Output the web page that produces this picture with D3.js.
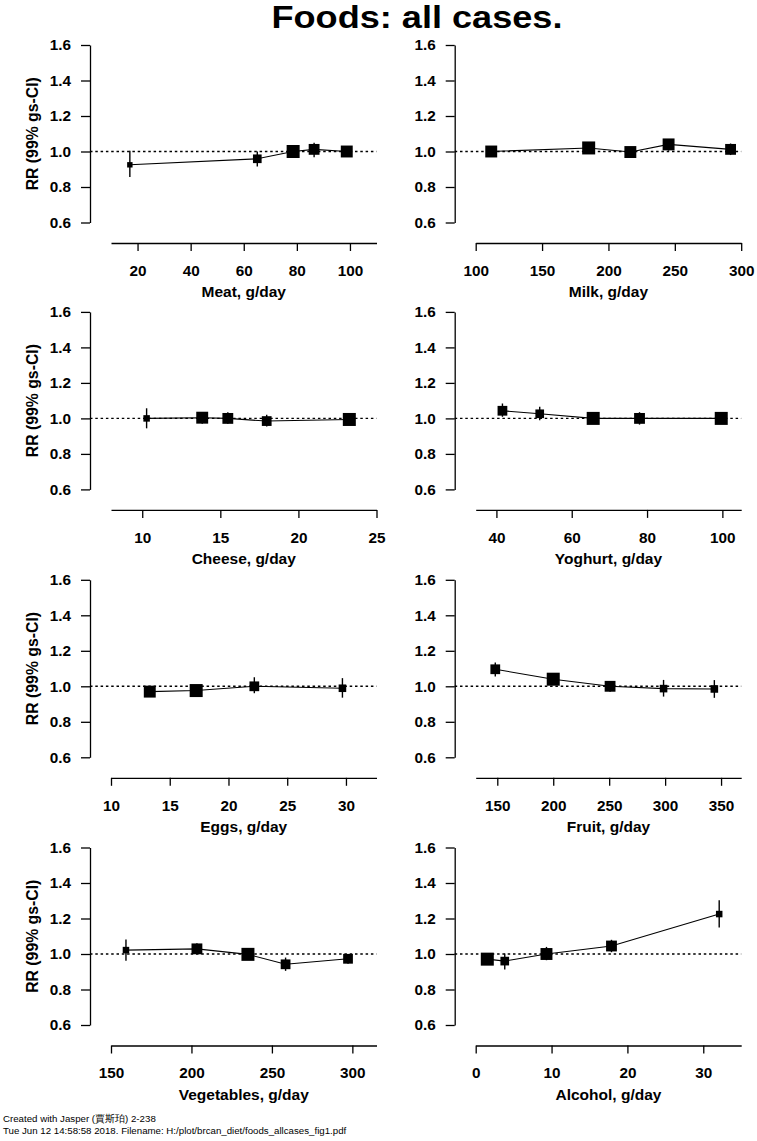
<!DOCTYPE html>
<html><head><meta charset="utf-8">
<script src="https://cdn.jsdelivr.net/npm/d3@7"></script>
<style>
body{margin:0;background:#fff;}
svg text{font-family:"Liberation Sans",Arial,sans-serif;}
</style></head>
<body><svg id="c" width="757" height="1141"></svg>
<script>
// ---- data ----
const panelNames = ["Meat","Milk","Cheese","Yoghurt","Eggs","Fruit","Vegetables","Alcohol"];
const xDomains = [[10,110],[100,300],[8,25],[34.5,105],[10,32.6],[130.7,368],[150,315],[0,35]];
const xTicks = [[20,40,60,80,100],[100,150,200,250,300],[10,15,20,25],[40,60,80,100],[10,15,20,25,30],[150,200,250,300,350],[150,200,250,300],[0,10,20,30]];
const intake = [
  [17.1,65.1,78.6,86.5,98.8],
  [111.7,185.1,216.5,245.3,292],
  [10.28,13.84,15.48,17.97,23.26],
  [41.6,51.5,65.7,78,99.7],
  [13.3,17.25,22.2,29.7],
  [148.2,200,250.8,298.6,344],
  [159.3,203.4,235.1,258.5,297.3],
  [1.53,3.83,9.33,17.9,32.1]
];
const rr = [
  [0.925,0.959,1.0,1.012,1.0],
  [1.0,1.02,0.997,1.04,1.012],
  [1.0,1.004,1.0,0.985,0.994],
  [1.043,1.026,1.0,1.0,1.0],
  [0.970,0.976,1.0,0.989],
  [1.096,1.04,1.0,0.987,0.985],
  [1.022,1.029,0.998,0.942,0.973],
  [0.971,0.960,1.0,1.045,1.225]
];
const ciLow = [
  [0.857,0.915,0.98,0.967,0.98],
  [0.975,0.99,0.97,1.005,0.98],
  [0.944,0.97,0.97,0.955,0.97],
  [1.009,0.99,0.975,0.965,0.975],
  [0.95,0.955,0.961,0.936],
  [1.055,1.015,0.97,0.942,0.935],
  [0.962,1.0,0.975,0.905,0.945],
  [0.95,0.913,0.965,1.01,1.15]
];
const ciHigh = [
  [1.004,1.0,1.02,1.049,1.025],
  [1.03,1.045,1.025,1.07,1.045],
  [1.057,1.035,1.035,1.02,1.02],
  [1.084,1.065,1.03,1.035,1.03],
  [0.99,0.995,1.051,1.046],
  [1.134,1.065,1.03,1.036,1.035],
  [1.082,1.06,1.02,0.98,1.0],
  [0.99,1.003,1.04,1.08,1.303]
];
// relative weight (square size)
const weight = [
  [5,8,12,10,11],
  [11,12,11,11,10],
  [6,11,10,9,12],
  [9,8,12,10,12],
  [11,12,9,7],
  [9,12,10,7,7],
  [6,10,12,9,9],
  [12,8,11,10,6]
];
const yTicks = [0.6,0.8,1.0,1.2,1.4,1.6];
const titleText = "Foods: all cases.";
const yTitle = "RR (99% gs-CI)";
const footer1 = "Created with Jasper (賈斯珀) 2-238";
const footer2 = "Tue Jun 12 14:58:58 2018. Filename: H:/plot/brcan_diet/foods_allcases_fig1.pdf";

// ---- layout ----
const svg = d3.select("#c");
const colX0 = [111, 475.7], plotW = 265.5, yAxisOff = 21;
const rowTop = [45, 311.9, 579.8, 847.5], plotH = 177.5, xAxisOff = 198;
const sizeScale = d3.scaleLinear().domain([0,12]).range([0,13]);

svg.append("text").attr("x",417).attr("y",27.5).attr("text-anchor","middle")
  .attr("font-size",31.5).attr("font-weight","bold").attr("textLength",291).attr("lengthAdjust","spacingAndGlyphs")
  .text(titleText);

panelNames.forEach((name,i)=>{
  const col=i%2,row=Math.floor(i/2);
  const x0=colX0[col], top=rowTop[row];
  const g=svg.append("g");
  const x=d3.scaleLinear().domain(xDomains[i]).range([x0,x0+plotW]);
  const y=d3.scaleLinear().domain([0.6,1.6]).range([top+plotH,top]);
  const yax=x0-yAxisOff;
  // y axis
  const ya=g.append("g").attr("transform",`translate(${yax},0)`)
    .call(d3.axisLeft(y).tickValues(yTicks).tickFormat(d3.format(".1f")).tickSize(9).tickPadding(10).tickSizeOuter(0));
  ya.select(".domain").attr("stroke-width",1.3);
  ya.selectAll(".tick line").attr("stroke-width",1.3);
  ya.selectAll("text").attr("font-size",15.3).attr("font-weight","bold").attr("font-family","Liberation Sans, Arial, sans-serif").attr("fill","#000");
  // x axis
  const xa=g.append("g").attr("transform",`translate(0,${top+xAxisOff})`)
    .call(d3.axisBottom(x).tickValues(xTicks[i]).tickSize(8).tickPadding(14).tickSizeOuter(0));
  xa.select(".domain").attr("stroke-width",1.3);
  xa.selectAll(".tick line").attr("stroke-width",1.3);
  xa.selectAll("text").attr("font-size",15.3).attr("font-weight","bold").attr("font-family","Liberation Sans, Arial, sans-serif").attr("fill","#000");
  g.append("text").attr("x",x0+plotW/2).attr("y",top+xAxisOff+54).attr("text-anchor","middle")
    .attr("font-size",15.5).attr("font-weight","bold").text(name+", g/day");
  if(col===0){
    g.append("text").attr("transform",`translate(38,${top+plotH/2}) rotate(-90)`).attr("text-anchor","middle")
      .attr("font-size",15.8).attr("font-weight","bold").text(yTitle);
  }
  // reference line
  g.append("line").attr("x1",yax).attr("x2",x0+plotW).attr("y1",y(1)).attr("y2",y(1))
    .attr("stroke","#000").attr("stroke-width",1.4).attr("stroke-dasharray","2.5,2.8");
  const pts=intake[i].map((v,j)=>({x:v,rr:rr[i][j],lo:ciLow[i][j],hi:ciHigh[i][j],w:weight[i][j]}));
  g.append("path").datum(pts).attr("fill","none").attr("stroke","#000").attr("stroke-width",1.1)
    .attr("d",d3.line().x(d=>x(d.x)).y(d=>y(d.rr)));
  g.selectAll(".ci").data(pts).join("line").attr("x1",d=>x(d.x)).attr("x2",d=>x(d.x))
    .attr("y1",d=>y(d.lo)).attr("y2",d=>y(d.hi)).attr("stroke","#000").attr("stroke-width",1.4);
  g.selectAll(".sq").data(pts).join("rect")
    .attr("x",d=>x(d.x)-sizeScale(d.w)/2).attr("y",d=>y(d.rr)-sizeScale(d.w)/2)
    .attr("width",d=>sizeScale(d.w)).attr("height",d=>sizeScale(d.w)).attr("fill","#000");
});

svg.append("text").attr("x",3).attr("y",1122).attr("font-size",9.7).text(footer1);
svg.append("text").attr("x",3).attr("y",1133.5).attr("font-size",9.7).text(footer2);
</script></body></html>
